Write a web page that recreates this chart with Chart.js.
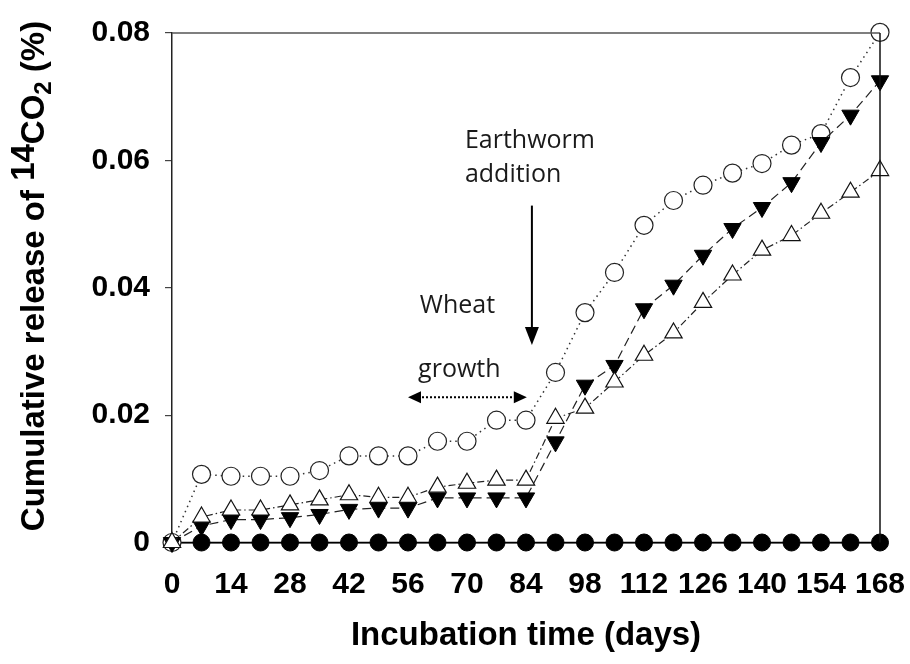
<!DOCTYPE html>
<html>
<head>
<meta charset="utf-8">
<script src="https://cdn.jsdelivr.net/npm/chart.js@4.4.1/dist/chart.umd.min.js"></script>
<style>
  html, body { margin: 0; padding: 0; background: #fff; }
  #wrap { width: 910px; height: 664px; }
</style>
</head>
<body>
<div id="wrap"><canvas id="chart" width="910" height="664"></canvas></div>
<script>
// days of incubation, one reading per week
const days = [0, 7, 14, 21, 28, 35, 42, 49, 56, 63, 70, 77, 84, 91, 98, 105, 112, 119, 126, 133, 140, 147, 154, 161, 168];

// cumulative 14CO2 release (%)
const openCircles = [0, 0.0107, 0.0104, 0.0104, 0.0104, 0.0113, 0.0136, 0.0136, 0.0136, 0.0159, 0.0159, 0.0192, 0.0192,
    0.0267, 0.0361, 0.0424, 0.0498, 0.0537, 0.0561, 0.0580, 0.0595, 0.0624, 0.0642, 0.0730, 0.0801];
const filledDown = [0, 0.0026, 0.0036, 0.0036, 0.0039, 0.0044, 0.0052, 0.0054, 0.0054, 0.0070, 0.0070, 0.0070, 0.0070,
    0.0158, 0.0247, 0.0278, 0.0367, 0.0404, 0.0451, 0.0493, 0.0526, 0.0565, 0.0628, 0.0671, 0.0725];
const openUp = [0, 0.0040, 0.0051, 0.0051, 0.0059, 0.0067, 0.0075, 0.0071, 0.0071, 0.0087, 0.0093, 0.0098, 0.0098,
    0.0195, 0.0211, 0.0252, 0.0294, 0.0329, 0.0377, 0.0420, 0.0459, 0.0482, 0.0517, 0.0550, 0.0584];
const filledCircles = [0, 0, 0, 0, 0, 0, 0, 0, 0, 0, 0, 0, 0, 0, 0, 0, 0, 0, 0, 0, 0, 0, 0, 0, 0];

const xTicks = [0, 14, 28, 42, 56, 70, 84, 98, 112, 126, 140, 154, 168];
const yTicks = [0, 0.02, 0.04, 0.06, 0.08];

const pts = arr => days.map((d, i) => ({ x: d, y: arr[i] }));

// notes drawn on the plot, placed in data units (day, %)
const notes = [
    { text: 'Earthworm', x: 69.5, y: 0.0620 },
    { text: 'addition', x: 69.5, y: 0.0566 },
    { text: 'Wheat', x: 58.8, y: 0.0360 },
    { text: 'growth', x: 58.4, y: 0.0260 }
];
const wormArrow = { x: 85.4, from: 0.0529, to: 0.0310 };
const wheatArrow = { from: 56.0, to: 84.2, y: 0.0228 };

function arrowHead(ctx, x, y, dx, dy, len, half) {
    // tip at (x, y), pointing along (dx, dy)
    const px = -dy, py = dx;
    ctx.beginPath();
    ctx.moveTo(x, y);
    ctx.lineTo(x - dx * len + px * half, y - dy * len + py * half);
    ctx.lineTo(x - dx * len - px * half, y - dy * len - py * half);
    ctx.closePath();
    ctx.fill();
}

const decorations = {
    id: 'decorations',
    afterDraw(chart) {
        const { ctx, chartArea } = chart;
        const xs = chart.scales.x, ys = chart.scales.y;
        ctx.save();

        // frame: top and right edge
        ctx.lineWidth = 1.5;
        ctx.strokeStyle = '#555';
        ctx.beginPath();
        ctx.moveTo(chartArea.left, chartArea.top);
        ctx.lineTo(chartArea.right, chartArea.top);
        ctx.stroke();
        ctx.strokeStyle = '#111';
        ctx.beginPath();
        ctx.moveTo(chartArea.right, chartArea.top);
        ctx.lineTo(chartArea.right, chartArea.bottom);
        ctx.stroke();

        // notes
        ctx.fillStyle = '#1a1a1a';
        ctx.font = '25px "Open Sans", "Noto Sans", sans-serif';
        ctx.textAlign = 'left';
        ctx.textBaseline = 'alphabetic';
        notes.forEach(n => ctx.fillText(n.text, xs.getPixelForValue(n.x), ys.getPixelForValue(n.y)));

        // earthworm arrow
        const ax = xs.getPixelForValue(wormArrow.x);
        const ay0 = ys.getPixelForValue(wormArrow.from);
        const ay1 = ys.getPixelForValue(wormArrow.to);
        ctx.strokeStyle = '#000';
        ctx.fillStyle = '#000';
        ctx.lineWidth = 2;
        ctx.beginPath();
        ctx.moveTo(ax, ay0);
        ctx.lineTo(ax, ay1 - 12);
        ctx.stroke();
        arrowHead(ctx, ax, ay1, 0, 1, 18, 7);

        // wheat growth double arrow
        const bx0 = xs.getPixelForValue(wheatArrow.from);
        const bx1 = xs.getPixelForValue(wheatArrow.to);
        const by = ys.getPixelForValue(wheatArrow.y);
        ctx.setLineDash([2, 2]);
        ctx.beginPath();
        ctx.moveTo(bx0 + 10, by);
        ctx.lineTo(bx1 - 10, by);
        ctx.stroke();
        ctx.setLineDash([]);
        arrowHead(ctx, bx0, by, -1, 0, 13, 6);
        arrowHead(ctx, bx1, by, 1, 0, 13, 6);

        // y axis title with superscript and subscript
        const parts = [
            { t: 'Cumulative release of ', size: 33, dy: 0 },
            { t: '14', size: 33, dy: -10 },
            { t: 'CO', size: 33, dy: 0 },
            { t: '2', size: 24, dy: 7 },
            { t: ' (%)', size: 33, dy: 0 }
        ];
        const fontOf = s => 'bold ' + s + 'px "Liberation Sans", Arial, sans-serif';
        let total = 0;
        parts.forEach(p => { ctx.font = fontOf(p.size); p.w = ctx.measureText(p.t).width; total += p.w; });
        ctx.translate(44, 276);
        ctx.rotate(-Math.PI / 2);
        ctx.fillStyle = '#000';
        let cx = -total / 2;
        parts.forEach(p => {
            ctx.font = fontOf(p.size);
            ctx.fillText(p.t, cx, p.dy);
            cx += p.w;
        });
        ctx.restore();
    }
};

const tickFont = { family: '"Liberation Sans", Arial, sans-serif', size: 30, weight: 'bold' };

new Chart(document.getElementById('chart'), {
    type: 'scatter',
    data: {
        datasets: [
            {
                label: 'open triangles',
                data: pts(openUp),
                showLine: true,
                borderColor: '#222',
                borderWidth: 1.2,
                borderDash: [7, 3, 1.5, 3],
                pointStyle: 'triangle',
                pointRadius: 10,
                pointBackgroundColor: '#fff',
                pointBorderColor: '#111',
                pointBorderWidth: 1.2,
                clip: false
            },
            {
                label: 'filled triangles',
                data: pts(filledDown),
                showLine: true,
                borderColor: '#222',
                borderWidth: 1.2,
                borderDash: [9, 5],
                pointStyle: 'triangle',
                rotation: 180,
                pointRadius: 10,
                pointBackgroundColor: '#000',
                pointBorderColor: '#000',
                pointBorderWidth: 1,
                clip: false
            },
            {
                label: 'open circles',
                data: pts(openCircles),
                showLine: true,
                borderColor: '#333',
                borderWidth: 1.5,
                borderDash: [1.5, 4],
                pointStyle: 'circle',
                pointRadius: 9,
                pointBackgroundColor: '#fff',
                pointBorderColor: '#222',
                pointBorderWidth: 1.2,
                clip: false
            },
            {
                label: 'filled circles',
                data: pts(filledCircles),
                showLine: true,
                borderColor: '#000',
                borderWidth: 1.5,
                pointStyle: 'circle',
                pointRadius: 8.5,
                pointBackgroundColor: '#000',
                pointBorderColor: '#000',
                pointBorderWidth: 1,
                clip: false
            }
        ]
    },
    options: {
        responsive: false,
        animation: false,
        layout: { padding: { left: 0, top: 32, right: 30, bottom: 0 } },
        plugins: { legend: { display: false }, tooltip: { enabled: false } },
        elements: { line: { tension: 0 } },
        scales: {
            x: {
                type: 'linear',
                min: 0,
                max: 168,
                afterFit: s => { s.height = 121.5; s.paddingRight = 0; s.paddingLeft = 0; },
                afterBuildTicks: s => { s.ticks = xTicks.map(v => ({ value: v })); },
                grid: { display: true, drawOnChartArea: false, drawTicks: false },
                border: { display: true, color: '#111', width: 1.5 },
                ticks: { font: tickFont, color: '#000', padding: 24, maxRotation: 0, autoSkip: false },
                title: {
                    display: true,
                    text: 'Incubation time (days)',
                    color: '#000',
                    font: { family: '"Liberation Sans", Arial, sans-serif', size: 33, weight: 'bold' },
                    padding: { top: 0, bottom: 8 }
                }
            },
            y: {
                min: 0,
                max: 0.08,
                afterFit: s => { s.width = 172; },
                afterBuildTicks: s => { s.ticks = yTicks.map(v => ({ value: v })); },
                grid: { display: true, drawOnChartArea: false, drawTicks: true, tickLength: 7, color: '#444', lineWidth: 1.2 },
                border: { display: true, color: '#222', width: 1.5 },
                ticks: {
                    font: tickFont,
                    color: '#000',
                    padding: 15,
                    callback: v => (v === 0 ? '0' : v.toFixed(2))
                }
            }
        }
    },
    plugins: [decorations]
});
</script>
</body>
</html>
